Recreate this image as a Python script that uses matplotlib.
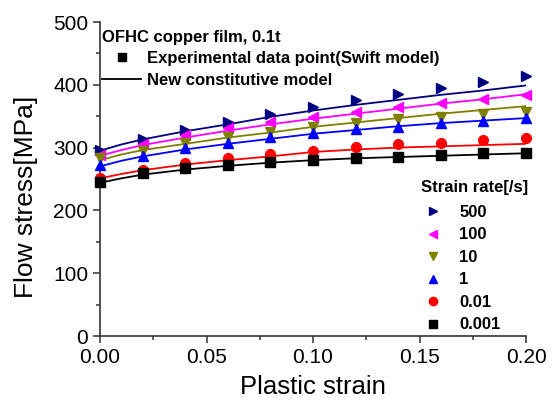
import matplotlib.pyplot as plt
from matplotlib.lines import Line2D

plt.rcParams['font.family'] = ['Liberation Sans', 'DejaVu Sans']

# experimental points (Swift model)
strain_pts = [0.00, 0.02, 0.04, 0.06, 0.08, 0.10, 0.12, 0.14, 0.16, 0.18, 0.20]
exp_500 = [296, 313, 328, 341, 353, 364, 376, 385, 395, 405, 414]
exp_100 = [288, 305, 320, 331, 340, 349, 357, 364, 371, 377, 383]
exp_10 = [283, 295, 307, 317, 325, 333, 339, 345, 349, 354, 357]
exp_1 = [272, 287, 299, 308, 317, 323, 329, 333, 339, 343, 347]
exp_001 = [251, 264, 275, 283, 290, 295, 301, 305, 308, 312, 316]
exp_0001 = [246, 259, 267, 272, 277, 280, 283, 285, 288, 291, 292]

# new constitutive model curves
strain_line = [0.00, 0.01, 0.02, 0.04, 0.06, 0.08, 0.10, 0.12, 0.14, 0.16, 0.18, 0.20]
model_500 = [295, 305, 313, 326, 337, 349, 359, 368, 376, 384, 391, 399]
model_100 = [287, 296, 304, 316, 327, 337, 346, 354, 362, 370, 377, 385]
model_10 = [280, 289, 296, 306, 316, 324, 333, 340, 347, 354, 360, 366]
model_1 = [270, 279, 286, 297, 306, 314, 322, 328, 334, 339, 343, 347]
model_001 = [251, 258, 264, 273, 280, 286, 293, 297, 300, 302, 304, 306]
model_0001 = [244, 251, 257, 265, 271, 276, 280, 283, 285, 287, 289, 291]

rate_labels = ['500', '100', '10', '1', '0.01', '0.001']
colors = ['#000080', '#FF00FF', '#808000', '#0000FF', '#FF0000', '#000000']
markers = ['>', '<', 'v', '^', 'o', 's']
exp_sets = [exp_500, exp_100, exp_10, exp_1, exp_001, exp_0001]
model_sets = [model_500, model_100, model_10, model_1, model_001, model_0001]

fig = plt.figure(figsize=(5.54, 4.0), dpi=100)
ax = fig.add_axes([0.1805, 0.16, 0.769, 0.785])

rate_handles = []
for ys, ms, c, m, lab in zip(exp_sets, model_sets, colors, markers, rate_labels):
    ax.plot(strain_line, ms, color=c, lw=1.3, zorder=2)
    ax.plot(strain_pts, ys, ls='none', marker=m, color=c, ms=7, zorder=3, clip_on=False)
    rate_handles.append(Line2D([], [], ls='none', marker=m, color=c, ms=6, label=lab))

ax.set_xlim(0, 0.20)
ax.set_ylim(0, 500)
ax.set_xticks([0, 0.05, 0.10, 0.15, 0.20])
ax.set_xticks([0.025, 0.075, 0.125, 0.175], minor=True)
ax.set_yticks([0, 100, 200, 300, 400, 500])
ax.set_yticks([50, 150, 250, 350, 450], minor=True)
ax.set_xticklabels(['0.00', '0.05', '0.10', '0.15', '0.20'])
ax.tick_params(which='major', direction='out', length=5, width=1.1, labelsize=15, colors='#333333',
               labelcolor='black')
ax.tick_params(which='minor', direction='out', length=3, width=1.1, colors='#333333')
for s in ['top', 'right']:
    ax.spines[s].set_visible(False)
for s in ['left', 'bottom']:
    ax.spines[s].set_linewidth(1.2)
    ax.spines[s].set_color('#333333')

ax.set_xlabel('Plastic strain', fontsize=18.5, labelpad=6)
ax.set_ylabel('Flow stress[MPa]', fontsize=19)
ax.yaxis.set_label_coords(-0.145, 0.443)

# legend for marker / line meaning
kind_handles = [
    Line2D([], [], ls='none', marker='s', color='black', ms=6, label='Experimental data point(Swift model)'),
    Line2D([], [], color='black', lw=1.3, label='New constitutive model'),
]
leg1 = ax.legend(handles=kind_handles, title='OFHC copper film, 0.1t', loc='upper left',
                 bbox_to_anchor=(-0.01, 0.995), frameon=False, alignment='left',
                 prop={'weight': 'bold', 'size': 12}, handlelength=2.3, handletextpad=0.4,
                 labelspacing=0.45, borderaxespad=0)
leg1.get_title().set_fontweight('bold')
leg1.get_title().set_fontsize(12)
leg1._legend_box.sep = 4
ax.add_artist(leg1)

leg2 = ax.legend(handles=rate_handles, title='Strain rate[/s]', loc='lower right',
                 bbox_to_anchor=(1.02, -0.01), frameon=False,
                 prop={'weight': 'bold', 'size': 12}, handlelength=1.5, handletextpad=0.8,
                 labelspacing=0.45, borderaxespad=0)
leg2.get_title().set_fontweight('bold')
leg2.get_title().set_fontsize(12)
leg2._legend_box.align = 'left'
leg2._legend_box.sep = 7

fig.savefig('out.png', dpi=100)
